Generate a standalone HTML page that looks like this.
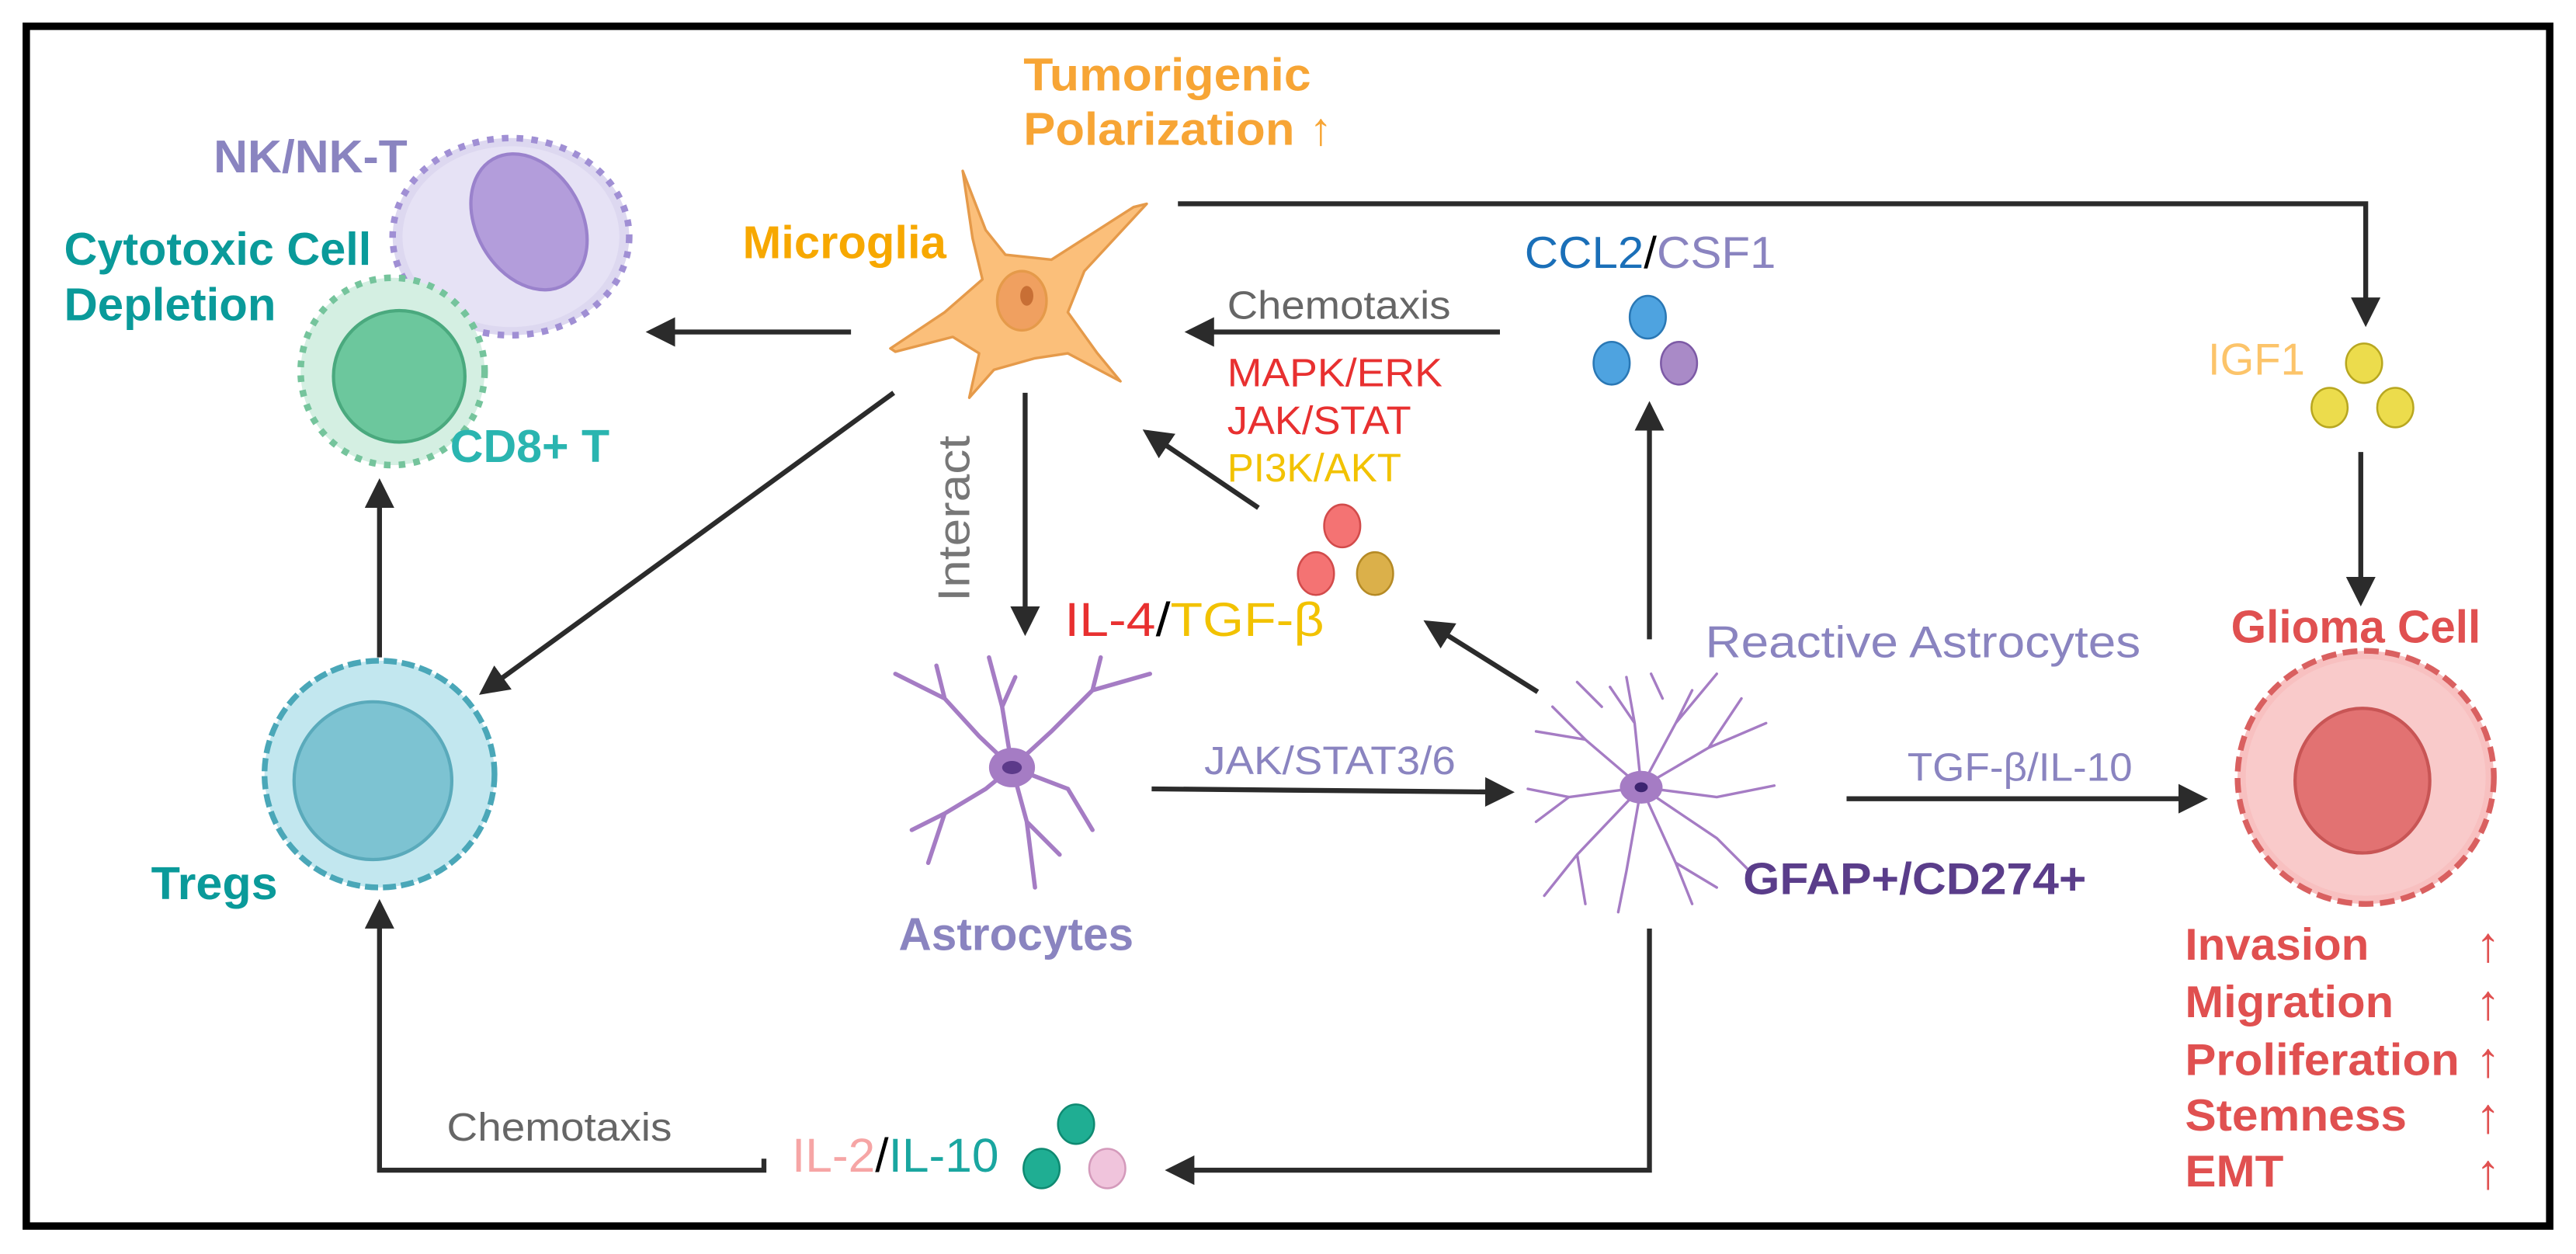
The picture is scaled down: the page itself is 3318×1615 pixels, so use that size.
<!DOCTYPE html>
<html><head><meta charset="utf-8"><style>
html,body{margin:0;padding:0;background:#fff;}
svg{display:block;}
text{font-family:"Liberation Sans",sans-serif;}
</style></head><body>
<svg width="3318" height="1615" viewBox="0 0 1568 763" preserveAspectRatio="none" xmlns="http://www.w3.org/2000/svg">
<defs>
<marker id="ah" markerWidth="6" markerHeight="6" refX="5" refY="3" orient="auto" markerUnits="strokeWidth">
<path d="M0,0 L6,3 L0,6 z" fill="#2b2b2b"/></marker>
</defs>
<rect x="16" y="16" width="1536" height="730" fill="#fff" stroke="#000" stroke-width="4.5"/>

<!-- connectors -->
<g stroke="#2b2b2b" stroke-width="3" fill="none">
<line x1="518" y1="202" x2="396" y2="202" marker-end="url(#ah)"/>
<polyline points="717,124 1440,124 1440,196" marker-end="url(#ah)"/>
<line x1="913" y1="202" x2="724" y2="202" marker-end="url(#ah)"/>
<line x1="544" y1="239" x2="294" y2="421" marker-end="url(#ah)"/>
<line x1="624" y1="239" x2="624" y2="384" marker-end="url(#ah)"/>
<line x1="766" y1="309" x2="698" y2="263" marker-end="url(#ah)"/>
<line x1="936" y1="421" x2="869" y2="379" marker-end="url(#ah)"/>
<line x1="1004" y1="389" x2="1004" y2="247" marker-end="url(#ah)"/>
<line x1="231" y1="400" x2="231" y2="294" marker-end="url(#ah)"/>
<line x1="1437" y1="275" x2="1437" y2="366" marker-end="url(#ah)"/>
<line x1="701" y1="480" x2="919" y2="482" marker-end="url(#ah)"/>
<line x1="1124" y1="486" x2="1341" y2="486" marker-end="url(#ah)"/>
<polyline points="1004,565 1004,712 712,712" marker-end="url(#ah)"/>
<polyline points="465,705 465,712 231,712 231,550" marker-end="url(#ah)"/>
</g>

<!-- NK cell -->
<g>
<ellipse cx="311" cy="144" rx="72" ry="60" fill="#ddd8f0" stroke="#a08fd4" stroke-width="4" stroke-dasharray="4 5"/>
<ellipse cx="311" cy="144" rx="66" ry="55" fill="#e6e2f5"/>
<ellipse cx="322" cy="135" rx="32" ry="44" transform="rotate(-30 322 135)" fill="#b39ddb" stroke="#9a82cc" stroke-width="2"/>
</g>
<!-- CD8 -->
<g>
<ellipse cx="239" cy="226" rx="56" ry="57" fill="#d4efe2" stroke="#75c49c" stroke-width="4" stroke-dasharray="4 5"/>
<circle cx="243" cy="229" r="40" fill="#6cc79d" stroke="#4aa97e" stroke-width="2"/>
</g>
<!-- Tregs -->
<g>
<ellipse cx="231" cy="471" rx="70" ry="69" fill="#c2e7ef" stroke="#4aa7b8" stroke-width="3.5" stroke-dasharray="8 3"/>
<circle cx="227" cy="475" r="48" fill="#7dc3d2" stroke="#5aaabb" stroke-width="2"/>
</g>
<!-- Microglia -->
<g fill="#fbbf7a" stroke="#e59a4a" stroke-width="1.6" stroke-linejoin="round">
<path d="M586,104 L600,140 L612,155 L640,158 L690,126 L698,124 L660,165 L650,190 L668,215 L682,232 L650,215 L630,218 L605,225 L590,242 L596,215 L580,205 L545,214 L542,212 L575,190 L598,170 L592,145 Z"/>
<ellipse cx="622" cy="183" rx="15" ry="18" fill="#f0a060"/>
<ellipse cx="625" cy="180" rx="4" ry="6" fill="#c86f35" stroke="none"/>
</g>
<!-- Astrocyte -->
<g stroke="#a57cc4" stroke-width="2.6" fill="none" stroke-linecap="round">
<path d="M616,467 L610,430 L602,400 M610,430 L618,412 M616,467 L596,448 L575,425 L545,410 M575,425 L570,405 M616,467 L640,445 L665,420 L700,410 M665,420 L670,400 M616,467 L600,480 L575,495 L555,505 M575,495 L565,525 M616,467 L625,500 L630,540 M625,500 L645,520 M616,467 L650,480 L665,505"/>
</g>
<ellipse cx="616" cy="467" rx="14" ry="12" fill="#a57cc4"/>
<ellipse cx="616" cy="467" rx="6" ry="4" fill="#5c3a8a"/>
<!-- Reactive astrocyte -->
<g stroke="#a57cc4" stroke-width="1.6" fill="none" stroke-linecap="round">
<path d="M999,479 L995,440 L990,412 M995,440 L980,418 M999,479 L1020,440 L1045,410 M1020,440 L1030,420 M999,479 L965,450 L945,430 M965,450 L935,445 M999,479 L1040,455 L1075,440 M1040,455 L1060,425 M999,479 L955,485 L930,480 M955,485 L935,500 M999,479 L1045,485 L1080,478 M999,479 L960,520 L940,545 M960,520 L965,550 M999,479 L990,530 L985,555 M999,479 L1020,525 L1030,550 M1020,525 L1045,540 M999,479 L1045,510 L1065,530 M975,430 L960,415 M1012,425 L1005,410"/>
</g>
<ellipse cx="999" cy="479" rx="13" ry="10" fill="#a57cc4"/>
<ellipse cx="999" cy="479" rx="4" ry="3" fill="#3c2470"/>
<!-- Glioma -->
<g>
<ellipse cx="1440" cy="473" rx="78" ry="77" fill="#f8c0c0" stroke="#d96060" stroke-width="3.5" stroke-dasharray="9 4"/>
<ellipse cx="1440" cy="473" rx="73" ry="72" fill="#f9caca"/>
<ellipse cx="1438" cy="475" rx="41" ry="44" fill="#e27272" stroke="#c85555" stroke-width="2"/>
</g>

<!-- beads -->
<g stroke-width="1.2">
<ellipse cx="1003" cy="193" rx="11" ry="13" fill="#4ea3e0" stroke="#2a78b5"/>
<ellipse cx="981" cy="221" rx="11" ry="13" fill="#4ea3e0" stroke="#2a78b5"/>
<ellipse cx="1022" cy="221" rx="11" ry="13" fill="#a98ac7" stroke="#7d5aa6"/>
<ellipse cx="817" cy="320" rx="11" ry="13" fill="#f47373" stroke="#d24b4b"/>
<ellipse cx="801" cy="349" rx="11" ry="13" fill="#f47373" stroke="#d24b4b"/>
<ellipse cx="837" cy="349" rx="11" ry="13" fill="#dbb04a" stroke="#b58a25"/>
<ellipse cx="1439" cy="221" rx="11" ry="12" fill="#ecdc4c" stroke="#b8a720"/>
<ellipse cx="1418" cy="248" rx="11" ry="12" fill="#ecdc4c" stroke="#b8a720"/>
<ellipse cx="1458" cy="248" rx="11" ry="12" fill="#ecdc4c" stroke="#b8a720"/>
<ellipse cx="655" cy="684" rx="11" ry="12" fill="#1fae93" stroke="#0f8a72"/>
<ellipse cx="634" cy="711" rx="11" ry="12" fill="#1fae93" stroke="#0f8a72"/>
<ellipse cx="674" cy="711" rx="11" ry="12" fill="#f0c4dc" stroke="#d49abb"/>
</g>

<!-- labels -->
<g font-weight="bold" font-size="28">
<text x="623" y="55" fill="#f7a535" textLength="175" lengthAdjust="spacingAndGlyphs">Tumorigenic</text>
<text x="623" y="88" fill="#f7a535" textLength="165" lengthAdjust="spacingAndGlyphs">Polarization</text>
<text x="797" y="88" fill="#f7a535" font-weight="normal">↑</text>
<text x="130" y="105" fill="#8a84c0" textLength="118" lengthAdjust="spacingAndGlyphs">NK/NK-T</text>
<text x="39" y="161" fill="#0a9a9a" textLength="187" lengthAdjust="spacingAndGlyphs">Cytotoxic Cell</text>
<text x="39" y="195" fill="#0a9a9a" textLength="129" lengthAdjust="spacingAndGlyphs">Depletion</text>
<text x="274" y="281" fill="#2ab5b0" textLength="97" lengthAdjust="spacingAndGlyphs">CD8+ T</text>
<text x="452" y="157" fill="#f7a800" textLength="124" lengthAdjust="spacingAndGlyphs">Microglia</text>
<text x="92" y="547" fill="#0a9a9a" textLength="77" lengthAdjust="spacingAndGlyphs">Tregs</text>
<text x="547" y="578" fill="#8a84c0" textLength="143" lengthAdjust="spacingAndGlyphs">Astrocytes</text>
<text x="1358" y="391" fill="#e05050" textLength="152" lengthAdjust="spacingAndGlyphs">Glioma Cell</text>
<text x="1061" y="544" font-size="27" fill="#5a3d8a" textLength="209" lengthAdjust="spacingAndGlyphs">GFAP+/CD274+</text>
<g font-size="27" fill="#e05050">
<text x="1330" y="584" textLength="112" lengthAdjust="spacingAndGlyphs">Invasion</text>
<text x="1330" y="619" textLength="127" lengthAdjust="spacingAndGlyphs">Migration</text>
<text x="1330" y="654" textLength="167" lengthAdjust="spacingAndGlyphs">Proliferation</text>
<text x="1330" y="688" textLength="135" lengthAdjust="spacingAndGlyphs">Stemness</text>
<text x="1330" y="722" textLength="60" lengthAdjust="spacingAndGlyphs">EMT</text>
<g font-size="30"><text x="1507" y="585">↑</text><text x="1507" y="620">↑</text><text x="1507" y="655">↑</text><text x="1507" y="689">↑</text><text x="1507" y="723">↑</text></g>
</g>
</g>
<g font-size="24">
<text x="1038" y="400" font-size="27" fill="#8a84c0" textLength="265" lengthAdjust="spacingAndGlyphs">Reactive Astrocytes</text>
<text x="747" y="194" fill="#666" textLength="136" lengthAdjust="spacingAndGlyphs">Chemotaxis</text>
<text x="747" y="235" fill="#e83030" textLength="131" lengthAdjust="spacingAndGlyphs">MAPK/ERK</text>
<text x="747" y="264" fill="#e83030" textLength="112" lengthAdjust="spacingAndGlyphs">JAK/STAT</text>
<text x="747" y="293" fill="#f2c200" textLength="106" lengthAdjust="spacingAndGlyphs">PI3K/AKT</text>
<text x="928" y="163" font-size="27" textLength="153" lengthAdjust="spacingAndGlyphs"><tspan fill="#1a6fb8">CCL2</tspan><tspan fill="#000">/</tspan><tspan fill="#8a84c0">CSF1</tspan></text>
<text x="1344" y="228" font-size="27" fill="#fcc46a" textLength="59" lengthAdjust="spacingAndGlyphs">IGF1</text>
<text x="648" y="387" font-size="29" textLength="158" lengthAdjust="spacingAndGlyphs"><tspan fill="#e83030">IL-4</tspan><tspan fill="#000">/</tspan><tspan fill="#f2c200">TGF-β</tspan></text>
<text x="733" y="471" fill="#8a84c0" textLength="153" lengthAdjust="spacingAndGlyphs">JAK/STAT3/6</text>
<text x="1161" y="475" fill="#8a84c0" textLength="137" lengthAdjust="spacingAndGlyphs">TGF-β/IL-10</text>
<text x="272" y="694" fill="#666" textLength="137" lengthAdjust="spacingAndGlyphs">Chemotaxis</text>
<text x="482" y="713" font-size="29" textLength="126" lengthAdjust="spacingAndGlyphs"><tspan fill="#f6a5a5">IL-2</tspan><tspan fill="#000">/</tspan><tspan fill="#1aa6a0">IL-10</tspan></text>
<text x="0" y="0" fill="#777" font-size="27" transform="translate(590,366) rotate(-90)" textLength="101" lengthAdjust="spacingAndGlyphs">Interact</text>
</g>
</svg>
</body></html>
